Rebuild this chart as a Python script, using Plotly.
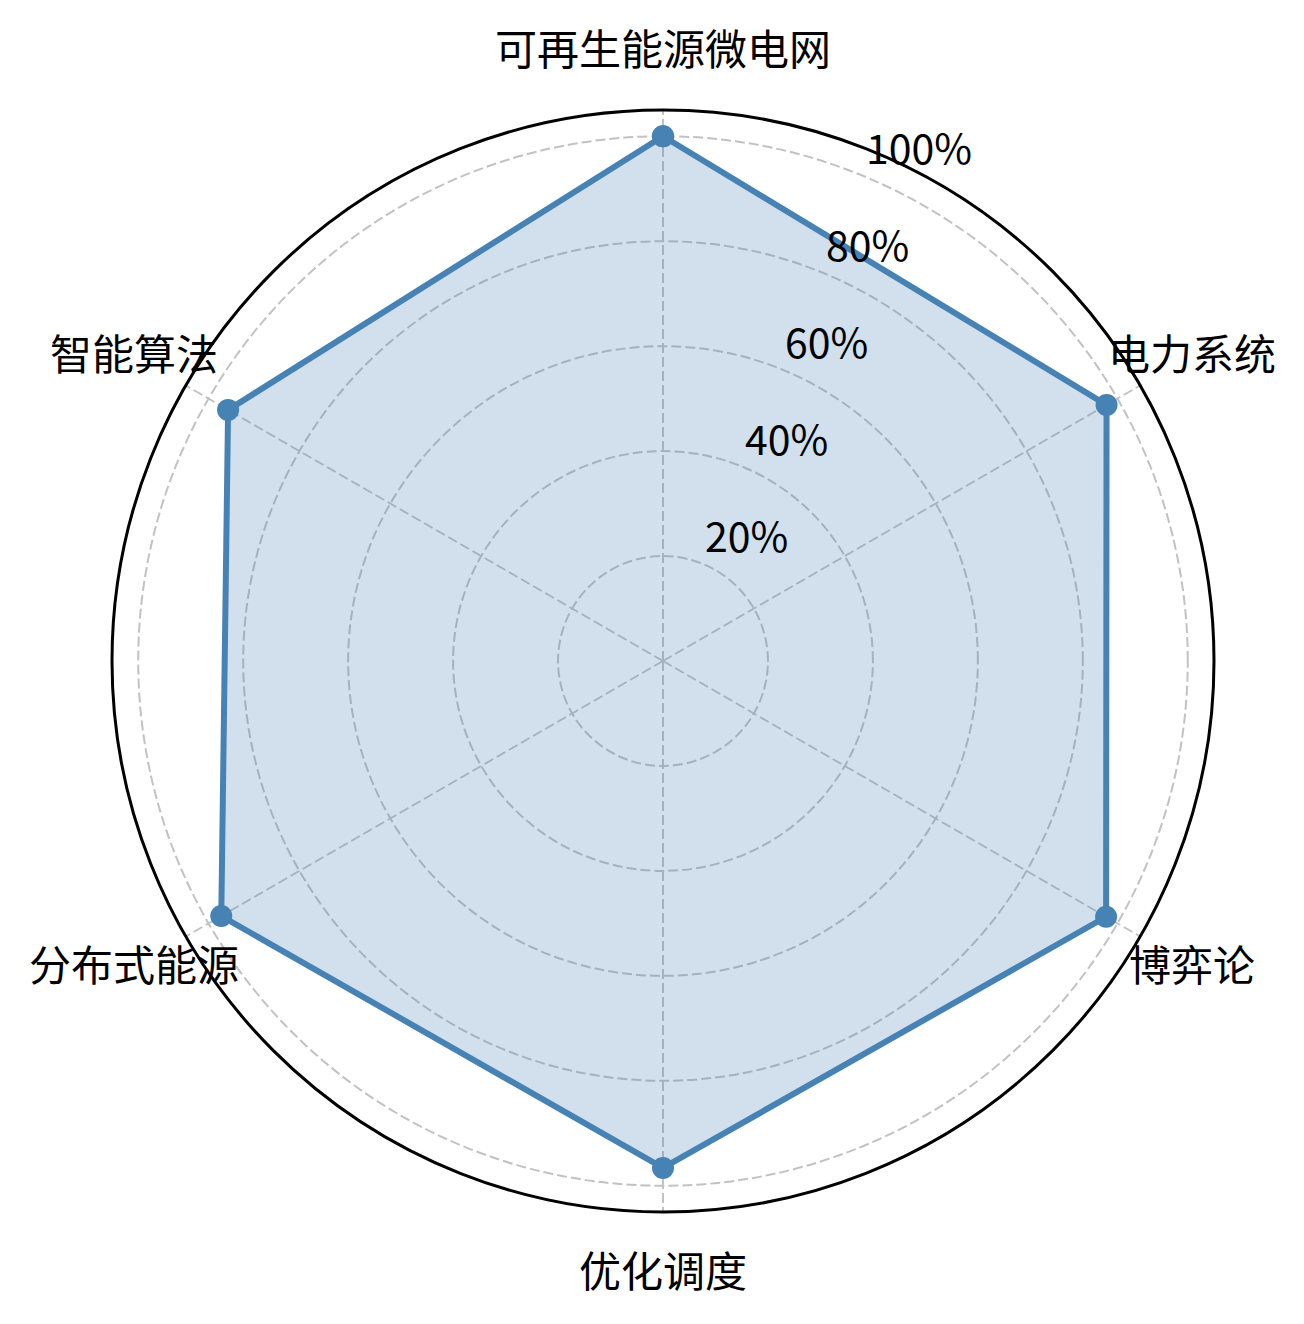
import math
import plotly.graph_objects as go

categories = ["可再生能源微电网", "电力系统", "博弈论", "优化调度", "分布式能源", "智能算法"]
values = [100, 97.6, 97.5, 96.6, 97.2, 95.7]
radial_ticks = [20, 40, 60, 80, 100]
radial_labels = ["20%", "40%", "60%", "80%", "100%"]

FONT = "Noto Sans CJK SC, Noto Sans, sans-serif"

theta = categories + categories[:1]
r = values + values[:1]

fig = go.Figure()
fig.add_trace(go.Scatterpolar(
    r=r, theta=theta, mode="lines+markers",
    fill="toself", fillcolor="rgba(70,130,180,0.25)",
    line=dict(color="#4682B4", width=6),
    marker=dict(color="#4682B4", size=22),
    showlegend=False,
))

W, H = 1304, 1324
RMAX = 105
cx, cy, R = 655, 653, 551   # polar centre / radius in figure pixels
GRID = "#c2c2c2"
fig.update_layout(
    width=W, height=H,
    margin=dict(l=0, r=0, t=0, b=0),
    paper_bgcolor="white",
    font=dict(family=FONT, color="black"),
    polar=dict(
        domain=dict(x=[(cx - R) / W, (cx + R) / W], y=[1 - (cy + R) / H, 1 - (cy - R) / H]),
        bgcolor="white",
        radialaxis=dict(
            range=[0, RMAX], tickvals=radial_ticks,
            showticklabels=False, showline=False, ticks="",
            gridcolor=GRID, griddash="10px,4px", gridwidth=2.2,
            layer="above traces",
        ),
        angularaxis=dict(
            rotation=90, direction="clockwise",
            showline=True, linecolor="black", linewidth=3,
            gridcolor=GRID, griddash="10px,4px", gridwidth=2.2,
            ticks="", showticklabels=False,
        ),
    ),
)

px_per_unit = R / RMAX

# category labels around the circle (matplotlib-style placement)
label_r = 611
for i, name in enumerate(categories):
    ang = 2 * math.pi * i / len(categories)
    x = cx + label_r * math.sin(ang)
    y = cy - label_r * math.cos(ang) - 4
    fig.add_annotation(
        x=x / W, y=1 - y / H, xref="paper", yref="paper",
        text=name, showarrow=False, xanchor="center", yanchor="middle",
        font=dict(size=42, family=FONT, color="black"),
    )

# radial tick labels along the 22.5 degree direction
rl_ang = math.radians(22.5)
for v, txt in zip(radial_ticks, radial_labels):
    rp = v * px_per_unit
    x = cx + rp * math.sin(rl_ang)
    y = cy - rp * math.cos(rl_ang) - 30
    fig.add_annotation(
        x=x / W, y=1 - y / H, xref="paper", yref="paper",
        text=txt, showarrow=False, xanchor="left", yanchor="middle",
        font=dict(size=41, family=FONT, color="black"),
    )

fig.write_html("out.html")
